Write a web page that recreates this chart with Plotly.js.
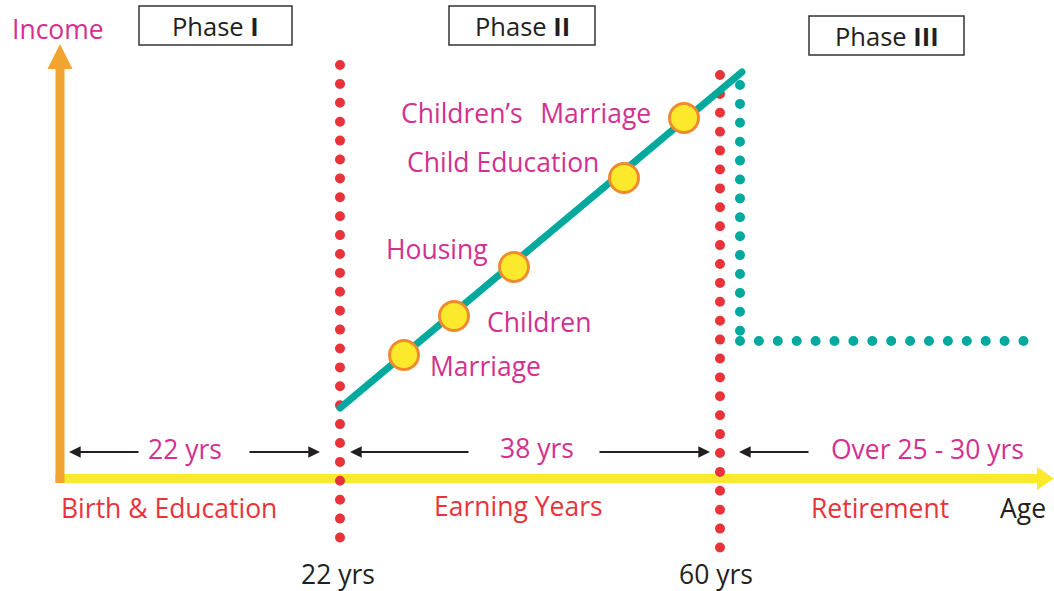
<!DOCTYPE html>
<html>
<head>
<meta charset="utf-8">
<script src="https://cdn.plot.ly/plotly-3.0.1.min.js"></script>
<style>
  html, body { margin: 0; padding: 0; background: #fff; }
  #chart { width: 1054px; height: 591px; }
  .scatterlayer .js-line { stroke-linecap: round !important; }
</style>
</head>
<body>
<div id="chart"></div>
<script>
// ---- data ----
const milestoneLabels = ["Marriage", "Children", "Housing", "Child Education", "Children\u2019s\u2004\u2004Marriage"];
const milestoneX = [404, 454, 514, 624, 684];
const milestoneY = [355, 316, 267, 178, 118];
const incomeX = [340, 742];
const incomeY = [408, 72];
const boundaryLabels = ["22 yrs", "60 yrs"];
const boundaryX = [340, 720];
const boundaryTop = [65, 75];
const boundaryBottom = [540, 548];
const retireX = [740, 1024];
const retireTop = 85;
const retireLevel = 341;
const phaseNames = ["Phase <b>I</b>", "Phase <b>II</b>", "Phase <b>III</b>"];
const spanLabels = ["22 yrs", "38 yrs", "Over 25 - 30 yrs"];
const stageLabels = ["Birth & Education", "Earning Years", "Retirement"];

// ---- styles ----
const FONT = "Open Sans, Noto Sans, sans-serif";
const MAGENTA = "#d4308f";
const RED = "#e8333a";
const DARK = "#231f20";
const TEAL = "#00a99d";
const YELLOW = "#fce92b";
const ORANGE = "#f2a431";
const DOT = "0px,18.9px";

const traces = [];
// red boundary dotted lines
boundaryX.forEach((bx, i) => {
  traces.push({
    x: [bx, bx], y: [boundaryTop[i], boundaryBottom[i]],
    mode: "lines", line: {color: RED, width: 10, dash: DOT},
    hoverinfo: "skip", showlegend: false
  });
});
// teal retirement income dotted
traces.push({
  x: [retireX[0], retireX[0]], y: [retireTop, retireLevel - 10],
  mode: "lines", line: {color: TEAL, width: 10, dash: DOT},
  hoverinfo: "skip", showlegend: false
});
traces.push({
  x: [retireX[0], retireX[1]], y: [retireLevel, retireLevel],
  mode: "lines", line: {color: TEAL, width: 10, dash: DOT},
  hoverinfo: "skip", showlegend: false
});
// income line
traces.push({
  x: incomeX, y: incomeY, mode: "lines",
  line: {color: TEAL, width: 7}, hoverinfo: "skip", showlegend: false
});
// milestones
traces.push({
  x: milestoneX, y: milestoneY, mode: "markers",
  marker: {size: 29, color: "#fde92c", line: {color: "#f08a2e", width: 3}},
  text: milestoneLabels, hoverinfo: "text", showlegend: false
});

const shapes = [
  // x axis (yellow)
  {type: "line", layer: "below", x0: 55, x1: 1038, y0: 478.5, y1: 478.5, line: {color: YELLOW, width: 9}},
  {type: "path", layer: "below", path: "M1037,467 L1054,478.5 L1037,490 Z", fillcolor: YELLOW, line: {width: 0}},
  // y axis (orange)
  {type: "line", layer: "below", x0: 60, x1: 60, y0: 483, y1: 66, line: {color: ORANGE, width: 9}},
  {type: "path", layer: "below", path: "M47.5,69 L60,44 L72.5,69 Z", fillcolor: ORANGE, line: {width: 0}},
  // phase boxes
  {type: "rect", layer: "below", x0: 139, x1: 292, y0: 6, y1: 45, line: {color: "#333", width: 1.5}},
  {type: "rect", layer: "below", x0: 449, x1: 595, y0: 6, y1: 45, line: {color: "#333", width: 1.5}},
  {type: "rect", layer: "below", x0: 809, x1: 964, y0: 16, y1: 55, line: {color: "#333", width: 1.5}}
];

function txt(text, x, y, color, xanchor, size) {
  return {text: text, x: x, y: y, xref: "x", yref: "y", showarrow: false,
    xanchor: xanchor || "center", yanchor: "middle",
    font: {family: FONT, size: size || 26.5, color: color}};
}
function arrow(xTail, xHead, y) {
  return {text: "", x: xHead, y: y, ax: xTail, ay: y, xref: "x", yref: "y",
    axref: "x", ayref: "y", showarrow: true, arrowhead: 2, arrowsize: 1.3,
    arrowwidth: 1.8, arrowcolor: DARK, standoff: 0, startstandoff: 0};
}

const annotations = [
  txt("Income", 58, 29, MAGENTA, "center", 26.5),
  txt(phaseNames[0], 215.5, 25.5, DARK, "center", 25.5),
  txt(phaseNames[1], 522, 25.5, DARK, "center", 25.5),
  txt(phaseNames[2], 886.5, 35.5, DARK, "center", 25.5),
  txt(milestoneLabels[4], 399, 113, MAGENTA, "left"),
  txt(milestoneLabels[3], 405, 162, MAGENTA, "left"),
  txt(milestoneLabels[2], 384, 249, MAGENTA, "left"),
  txt(milestoneLabels[1], 485, 322, MAGENTA, "left"),
  txt(milestoneLabels[0], 428, 366, MAGENTA, "left"),
  txt(spanLabels[0], 185, 449, MAGENTA),
  txt(spanLabels[1], 537, 448, MAGENTA),
  txt(spanLabels[2], 927, 449, MAGENTA),
  txt(stageLabels[0], 59, 508, RED, "left"),
  txt(stageLabels[1], 518, 506, RED),
  txt(stageLabels[2], 880, 508, RED),
  txt("Age", 998, 508, DARK, "left"),
  txt(boundaryLabels[0], boundaryX[0] - 2, 574, DARK),
  txt(boundaryLabels[1], boundaryX[1] - 4, 574, DARK),
  arrow(140, 69, 452),
  arrow(248, 320, 452),
  arrow(470, 350, 452),
  arrow(598, 710, 452),
  arrow(810, 739, 452)
];

const layout = {
  width: 1054, height: 591,
  margin: {l: 0, r: 0, t: 0, b: 0, pad: 0},
  paper_bgcolor: "#ffffff", plot_bgcolor: "#ffffff",
  xaxis: {range: [0, 1054], visible: false, fixedrange: true},
  yaxis: {range: [591, 0], visible: false, fixedrange: true},
  shapes: shapes, annotations: annotations, showlegend: false
};

Plotly.newPlot("chart", traces, layout, {displayModeBar: false, staticPlot: true});
</script>
</body>
</html>
